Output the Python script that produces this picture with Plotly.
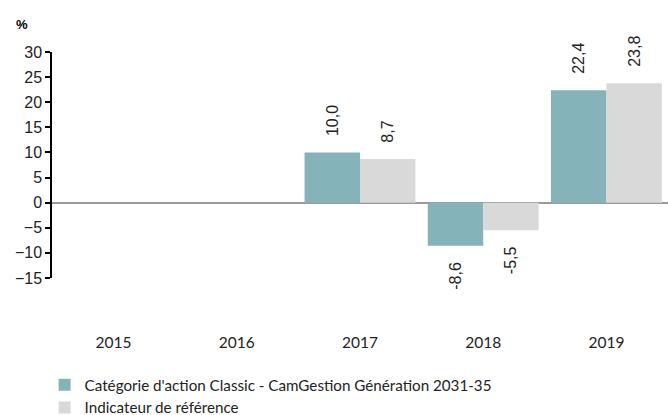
import plotly.graph_objects as go

years = ["2015", "2016", "2017", "2018", "2019"]
fund = [None, None, 10.0, -8.6, 22.4]
bench = [None, None, 8.7, -5.5, 23.8]
fund_name = "Catégorie d'action Classic - CamGestion Génération 2031-35"
bench_name = "Indicateur de référence"
y_ticks = [30, 25, 20, 15, 10, 5, 0, -5, -10, -15]

PAD = "\u00a0\u00a0\u00a0"


def fmt(v):
    if v is None:
        return ""
    s = f"{v:.1f}".replace(".", ",")
    # rotated text: padding on the side facing the bar
    return PAD + s if v >= 0 else s + PAD


label_font = dict(family="Liberation Sans", size=16, color="#222")

fig = go.Figure()
fig.add_trace(go.Bar(
    x=years, y=fund, name=fund_name, marker=dict(color="#84B4BA", line_width=0),
    text=[fmt(v) for v in fund], textposition="outside", textangle=-90,
    textfont=label_font, cliponaxis=False,
))
fig.add_trace(go.Bar(
    x=years, y=bench, name=bench_name, marker=dict(color="#D9D9D9", line_width=0),
    text=[fmt(v) for v in bench], textposition="outside", textangle=-90,
    textfont=label_font, cliponaxis=False,
))

fig.update_layout(
    width=668, height=415,
    margin=dict(l=52, r=0, t=52, b=137, autoexpand=False),
    paper_bgcolor="white", plot_bgcolor="white",
    barmode="group", bargap=0.1, bargroupgap=0,
    uniformtext=dict(minsize=8, mode="show"),
    showlegend=True,
    legend=dict(
        orientation="v", x=-0.012, xanchor="left", y=-0.40, yanchor="top",
        font=dict(family="Lato", size=15.2, color="#222"),
        bgcolor="rgba(0,0,0,0)", tracegroupgap=0,
    ),
    xaxis=dict(
        type="category", showgrid=False, showline=False, zeroline=False,
        ticks="outside", ticklen=50, tickcolor="rgba(0,0,0,0)",
        tickfont=dict(family="Lato", size=15.5, color="#222"),
    ),
    yaxis=dict(
        range=[-15, 30], tickvals=y_ticks, showgrid=False,
        showline=True, linecolor="black", linewidth=1.5,
        ticks="outside", ticklen=5, tickcolor="black", tickwidth=1.5,
        zeroline=True, zerolinecolor="#9a9a9a", zerolinewidth=1.5,
        tickfont=dict(family="Liberation Sans", size=16, color="#222"),
    ),
    annotations=[dict(
        text="<b>%</b>", xref="paper", yref="paper", x=-52/616 + 22/616, y=1 + 27/226,
        xanchor="center", yanchor="middle", showarrow=False,
        font=dict(family="Liberation Sans", size=13, color="black"),
    )],
)

fig.write_html(
    "out.html",
    config={"displayModeBar": False},
    post_script="document.body.style.margin='0';document.body.style.padding='0';",
)
